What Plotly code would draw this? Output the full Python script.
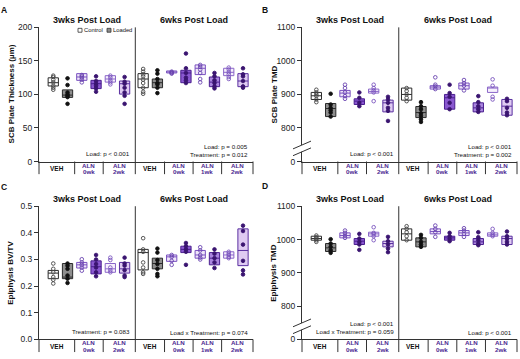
import plotly.graph_objects as go

W, H = 520, 359
FONT = "Liberation Sans, Arial, sans-serif"

# ---------------- data ----------------
weeks = ["3wks Post Load", "6wks Post Load"]
groups_3wk = ["VEH", "ALN<br>0wk", "ALN<br>2wk"]
groups_6wk = ["VEH", "ALN<br>0wk", "ALN<br>1wk", "ALN<br>2wk"]
box_keys = ["VEH-C", "VEH-L", "ALN0-C", "ALN0-L", "ALN2-C", "ALN2-L",
            "VEH-C", "VEH-L", "ALN0-C", "ALN0-L", "ALN1-C", "ALN1-L", "ALN2-C", "ALN2-L"]

A_q1 = [112.6, 95.6, 121, 108.7, 118.4, 100.5, 110, 110, 132, 117.5, 129.6, 111.6, 128, 111.6]
A_med = [117.5, 99, 126, 116, 123, 116, 123, 117.5, 133.5, 132, 139, 118.4, 133, 120]
A_q3 = [124.8, 106.8, 131, 121, 128, 120, 131, 123, 135, 136, 144, 126, 139, 131]
A_pts = [[128, 126, 122, 118, 113, 110, 107], [124, 114, 103, 100, 98, 96, 86],
         [129, 127, 125, 122, 118], [127, 120, 116, 113, 109, 104],
         [128, 125, 121, 118, 115], [126, 119, 116, 110, 103, 98, 86],
         [138, 134, 130, 127, 122, 117, 110, 104, 101], [136, 131, 123, 117, 115, 110, 102],
         [134, 133, 132, 131], [161, 139, 132, 125, 121, 117],
         [144, 141, 137, 132, 123, 118], [132, 127, 121, 117, 112, 109],
         [140, 137, 133, 130, 126, 123], [139, 130, 127, 120, 112, 110]]

B_q1 = [885, 834, 893, 870, 904, 848, 883, 831, 916, 856, 916, 848, 906, 838]
B_med = [896, 858, 904, 880, 909, 875, 900, 846, 922, 890, 926, 860, 919, 865]
B_q3 = [906, 873, 912, 887, 916, 883, 919, 864, 926, 900, 934, 875, 922, 885]
B_pts = [[914, 906, 900, 895, 885, 877], [902, 870, 860, 853, 846, 834],
         [929, 919, 906, 895, 887], [906, 890, 875, 865],
         [929, 919, 912, 906, 880], [893, 885, 875, 860, 851, 821],
         [919, 910, 900, 890, 880], [877, 865, 856, 844, 836, 826, 818],
         [951, 929, 924, 916], [929, 904, 893, 875, 856],
         [943, 934, 926, 912], [895, 877, 865, 856, 848],
         [945, 926, 893, 885], [887, 880, 860, 846, 838]]

C_q1 = [0.228, 0.228, 0.268, 0.246, 0.252, 0.249, 0.261, 0.265, 0.293, 0.326, 0.305, 0.28, 0.305, 0.277]
C_med = [0.249, 0.234, 0.28, 0.273, 0.265, 0.265, 0.326, 0.285, 0.31, 0.338, 0.317, 0.305, 0.317, 0.334]
C_q3 = [0.259, 0.285, 0.289, 0.295, 0.285, 0.289, 0.338, 0.305, 0.317, 0.35, 0.334, 0.326, 0.329, 0.415]
C_pts = [[0.285, 0.265, 0.252, 0.234, 0.224, 0.21], [0.285, 0.277, 0.265, 0.24, 0.228, 0.212],
         [0.301, 0.289, 0.28, 0.27, 0.258], [0.317, 0.30, 0.283, 0.27, 0.252, 0.237],
         [0.307, 0.298, 0.27, 0.26, 0.252], [0.307, 0.285, 0.277, 0.26, 0.24, 0.234],
         [0.38, 0.338, 0.329, 0.289, 0.27, 0.252, 0.246], [0.341, 0.326, 0.298, 0.283, 0.265, 0.246, 0.237],
         [0.317, 0.31, 0.295, 0.28], [0.362, 0.35, 0.338, 0.329, 0.28],
         [0.346, 0.334, 0.317, 0.307, 0.30], [0.338, 0.322, 0.305, 0.289, 0.268],
         [0.329, 0.322, 0.317, 0.31, 0.305], [0.427, 0.407, 0.356, 0.295, 0.259, 0.244]]

D_q1 = [998, 964, 1005, 985, 1010, 978, 998, 978, 1017, 998, 1012, 985, 1010, 985]
D_med = [1003, 975, 1012, 995, 1017, 988, 1017, 993, 1024, 1005, 1020, 993, 1014, 1003]
D_q3 = [1010, 988, 1020, 1003, 1022, 995, 1032, 1005, 1032, 1010, 1027, 1003, 1020, 1010]
D_pts = [[1012, 1007, 1003, 998, 993], [1001, 988, 978, 968, 960],
         [1027, 1020, 1012, 1005], [1017, 1003, 993, 985, 969],
         [1037, 1020, 1017, 1010, 998], [1008, 995, 985, 973, 962],
         [1040, 1032, 1022, 1010, 998], [1014, 1005, 993, 985, 978],
         [1042, 1032, 1022, 1008], [1020, 1010, 1002, 995],
         [1034, 1027, 1017, 1008], [1022, 1007, 998, 988, 983],
         [1032, 1020, 1014, 1010], [1024, 1010, 1002, 993, 985]]

y_titles = ["SCB Plate Thickness (µm)", "SCB Plate TMD", "Epiphysis BV/TV", "Epiphysis TMD"]
stats_3wk = [["Load: p < 0.001"], ["Load: p < 0.001"], ["Treatment: p = 0.083"],
             ["Load: p < 0.001", "Load x Treatment: p = 0.059"]]
stats_6wk = [["Load: p = 0.005", "Treatment: p = 0.012"], ["Load: p < 0.001", "Treatment: p = 0.002"],
             ["Load x Treatment: p = 0.074"], ["Load: p < 0.001"]]

# ---------------- styles / layout geometry ----------------
STYLE = {
    "VEH-C": dict(fill="#ffffff", line="#2b2b2b", mc="#444444", sym="circle-open"),
    "VEH-L": dict(fill="#8e8e8e", line="#2b2b2b", mc="#111111", sym="circle"),
    "ALN0-C": dict(fill="#efe6f9", line="#7a52c0", mc="#6a44b0", sym="circle-open"),
    "ALN0-L": dict(fill="#8a58d0", line="#4a1f8f", mc="#3a1470", sym="circle"),
    "ALN1-C": dict(fill="#efe6f9", line="#7a52c0", mc="#6a44b0", sym="circle-open"),
    "ALN1-L": dict(fill="#ab86e0", line="#4a1f8f", mc="#3a1470", sym="circle"),
    "ALN2-C": dict(fill="#f6f0fc", line="#8a66c8", mc="#7a55be", sym="circle-open"),
    "ALN2-L": dict(fill="#dfcbf2", line="#5a30a0", mc="#3a1470", sym="circle"),
}
positions = [1, 2, 3, 4, 5, 6, 7.3, 8.3, 9.3, 10.3, 11.3, 12.3, 13.3, 14.3]
XMAX = 15.0
DIV = 6.75
seps_3wk = [0, 2.5, 4.5, 6.75]
seps_6wk = [6.75, 8.8, 10.8, 12.8, 15.0]

# pixel boxes: (x_axis, x_end, y_top, y_bottom)
PANELS = [(39, 253, 23, 161), (302, 517, 23, 161), (39, 253, 207, 344), (302, 517, 207, 344)]
letters = ["A", "B", "C", "D"]
letter_px = [(4, 5), (265, 5), (4, 187), (265, 186)]

data = [(A_q1, A_med, A_q3, A_pts), (B_q1, B_med, B_q3, B_pts),
        (C_q1, C_med, C_q3, C_pts), (D_q1, D_med, D_q3, D_pts)]
yaxes_cfg = [
    dict(range=[0, 200], tickvals=[0, 50, 100, 150, 200], ticktext=["0", "50", "100", "150", "200"]),
    dict(range=[700, 1100], tickvals=[700, 800, 900, 1000, 1100], ticktext=["0", "800", "900", "1000", "1100"]),
    dict(range=[0, 0.5], tickvals=[0, 0.1, 0.2, 0.3, 0.4, 0.5], ticktext=["0.0", "0.1", "0.2", "0.3", "0.4", "0.5"]),
    dict(range=[700, 1100], tickvals=[700, 800, 900, 1000, 1100], ticktext=["0", "800", "900", "1000", "1100"]),
]


def PX(x):
    return x / W


def PY(y):
    return 1 - y / H


fig = go.Figure()
shapes = []
annotations = []
ALN_COLOR = "#4b2a91"

for p in range(4):
    x0, x1, yt, yb = PANELS[p]
    sfx = "" if p == 0 else str(p + 1)
    xa, ya = "x" + sfx, "y" + sfx
    q1s, meds, q3s, pts = data[p]

    def ux(u, x0=x0, x1=x1):
        return PX(x0 + (x1 - x0) * u / XMAX)

    for i, key in enumerate(box_keys):
        st = STYLE[key]
        fig.add_trace(go.Box(
            x=[positions[i]], q1=[q1s[i]], median=[meds[i]], q3=[q3s[i]],
            lowerfence=[q1s[i]], upperfence=[q3s[i]], width=0.72, whiskerwidth=0,
            fillcolor=st["fill"], line=dict(color=st["line"], width=1),
            boxpoints=False, showlegend=False, hoverinfo="skip", xaxis=xa, yaxis=ya))
    for i, key in enumerate(box_keys):
        st = STYLE[key]
        fig.add_trace(go.Scatter(
            x=[positions[i]] * len(pts[i]), y=pts[i], mode="markers",
            marker=dict(symbol=st["sym"], size=3.6, color=st["mc"],
                        line=dict(color=st["mc"], width=0.9)),
            showlegend=False, hoverinfo="skip", xaxis=xa, yaxis=ya, cliponaxis=False))

    fig.layout["xaxis" + sfx] = dict(
        domain=[PX(x0), PX(x1)], range=[0, XMAX], anchor=ya, showline=True,
        linecolor="#333333", linewidth=1, ticks="", showticklabels=False,
        showgrid=False, zeroline=False, fixedrange=True)
    yc = yaxes_cfg[p]
    fig.layout["yaxis" + sfx] = dict(
        domain=[PY(yb), PY(yt)], range=yc["range"], tickvals=yc["tickvals"],
        ticktext=yc["ticktext"], anchor=xa, showline=True, linecolor="#333333",
        linewidth=1, ticks="outside", ticklen=4, tickcolor="#333333",
        tickfont=dict(size=8.5, color="#222222", family=FONT),
        showgrid=False, zeroline=False, fixedrange=True)

    lb = yb + 13
    # divider between weeks
    shapes.append(dict(type="line", xref="paper", yref="paper", x0=ux(DIV), x1=ux(DIV),
                       y0=PY(yt), y1=PY(lb), line=dict(color="#333333", width=1)))
    # group separators below axis
    for u in seps_3wk[:-1] + seps_6wk[1:]:
        shapes.append(dict(type="line", xref="paper", yref="paper", x0=ux(u), x1=ux(u),
                           y0=PY(yb), y1=PY(lb), line=dict(color="#333333", width=1)))
    # group labels
    for seps, labels in ((seps_3wk, groups_3wk), (seps_6wk, groups_6wk)):
        for g, lab in enumerate(labels):
            cx = ux((seps[g] + seps[g + 1]) / 2)
            if lab == "VEH":
                annotations.append(dict(x=cx, y=PY(yb + 6.8), xref="paper", yref="paper",
                                        text="<b>VEH</b>", showarrow=False, xanchor="center",
                                        yanchor="middle", font=dict(size=6.5, color="#111111", family=FONT)))
            else:
                l1, l2 = lab.split("<br>")
                for k, t in enumerate((l1, l2)):
                    annotations.append(dict(x=cx, y=PY(yb + 3.6 + 6.4 * k), xref="paper", yref="paper",
                                            text="<b>" + t + "</b>", showarrow=False, xanchor="center",
                                            yanchor="middle", font=dict(size=6.2, color=ALN_COLOR, family=FONT)))
    # week titles
    for (a, b), wt in zip(((0, DIV), (DIV, XMAX)), weeks):
        annotations.append(dict(x=ux((a + b) / 2), y=PY(yt - 7.5), xref="paper", yref="paper",
                                text="<b>" + wt + "</b>", showarrow=False, xanchor="center",
                                yanchor="middle", font=dict(size=9, color="#111111", family=FONT)))
    # stats
    st3 = stats_3wk[p]
    for k, t in enumerate(st3):
        yy = yb - 8 - 8.2 * (len(st3) - 1 - k)
        annotations.append(dict(x=ux(DIV) - PX(3), y=PY(yy), xref="paper", yref="paper", text=t,
                                showarrow=False, xanchor="right", yanchor="middle",
                                font=dict(size=6.2, color="#111111", family=FONT)))
    st6 = stats_6wk[p]
    for k, t in enumerate(st6):
        yy = yb - 7 - 8.2 * (len(st6) - 1 - k)
        annotations.append(dict(x=PX(x1 - 3), y=PY(yy), xref="paper", yref="paper", text=t,
                                showarrow=False, xanchor="right", yanchor="middle",
                                font=dict(size=6.2, color="#111111", family=FONT)))
    # y title
    annotations.append(dict(x=PX(x0 - 28), y=PY((yt + yb) / 2), xref="paper", yref="paper",
                            text="<b>" + y_titles[p] + "</b>", showarrow=False, textangle=-90,
                            xanchor="center", yanchor="middle",
                            font=dict(size=8, color="#111111", family=FONT)))
    # panel letter
    lx, ly = letter_px[p]
    annotations.append(dict(x=PX(lx), y=PY(ly), xref="paper", yref="paper", text="<b>" + letters[p] + "</b>",
                            showarrow=False, xanchor="center", yanchor="middle",
                            font=dict(size=8.5, color="#111111", family=FONT)))
    # axis break marks for TMD panels
    if p in (1, 3):
        shapes.append(dict(type="line", xref="paper", yref="paper", x0=PX(x0), x1=PX(x0),
                           y0=PY(yb - 17), y1=PY(yb - 10), line=dict(color="#ffffff", width=2)))
        for c in (yb - 17, yb - 10):
            shapes.append(dict(type="line", xref="paper", yref="paper", x0=PX(x0 - 9), x1=PX(x0 + 9),
                               y0=PY(c + 4), y1=PY(c - 4), line=dict(color="#333333", width=1)))

# legend (panel A)
for (sx, fill, lab) in ((78, "#ffffff", "Control"), (107, "#8e8e8e", "Loaded")):
    shapes.append(dict(type="rect", xref="paper", yref="paper", x0=PX(sx), x1=PX(sx + 4),
                       y0=PY(28), y1=PY(24), fillcolor=fill, line=dict(color="#333333", width=0.8)))
    annotations.append(dict(x=PX(sx + 5), y=PY(26), xref="paper", yref="paper", text=lab,
                            showarrow=False, xanchor="left", yanchor="middle", borderpad=0,
                            font=dict(size=5.8, color="#111111", family=FONT)))

fig.update_layout(width=W, height=H, autosize=False, margin=dict(l=0, r=0, t=0, b=0),
                  paper_bgcolor="white", plot_bgcolor="white", boxmode="overlay",
                  shapes=shapes, annotations=annotations, font=dict(family=FONT))

fig.write_html("out.html", config={"displayModeBar": False},
               post_script="document.body.style.margin='0px';")
